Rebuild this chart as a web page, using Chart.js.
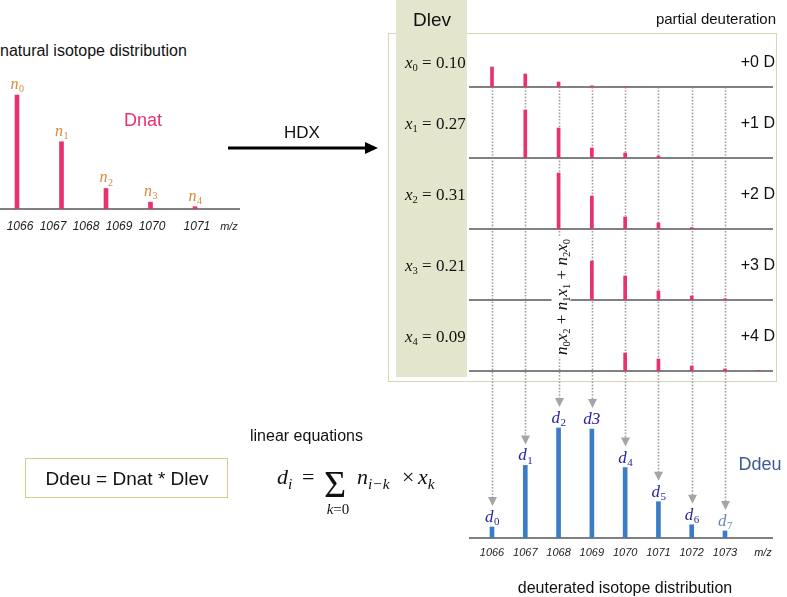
<!DOCTYPE html>
<html>
<head>
<meta charset="utf-8">
<script src="https://cdn.jsdelivr.net/npm/chart.js@4.4.1/dist/chart.umd.min.js"></script>
<style>
body { margin: 0; background: #fff; }
#wrap { position: relative; width: 787px; height: 597px; overflow: hidden;
        font-family: "Liberation Sans", Arial, sans-serif; color: #111; }
canvas { position: absolute; }
.t { position: absolute; white-space: nowrap; line-height: 1; z-index: 6; }
.c { transform: translate(-50%, -50%); }
.m { transform: translateY(-50%); }
.r { transform: translate(-100%, -50%); }
.serif { font-family: "Liberation Serif", "Times New Roman", serif; }
.s { font-size: 0.62em; position: relative; top: 0.28em; font-style: normal; }
.si { font-size: 0.7em; position: relative; top: 0.3em; font-style: italic; }
</style>
</head>
<body>
<div id="wrap">
  <!-- Dlev band and the partial deuteration frame -->
  <div style="position:absolute;left:388px;top:33px;width:389px;height:349px;border:1.5px solid #d9d5b0;box-sizing:border-box;z-index:1;"></div>
  <div style="position:absolute;left:396px;top:0;width:71px;height:377px;background:#e3e6cc;z-index:2;"></div>

  <div class="t m" style="left:0;top:51px;font-size:16px;">natural isotope distribution</div>
  <div class="t c" style="left:143px;top:120px;font-size:18px;color:#e8316f;">Dnat</div>
  <div class="t c" style="left:229px;top:226px;font-size:11px;font-style:italic;color:#222;">m/z</div>

  <div class="t c" style="left:302px;top:132px;font-size:17px;">HDX</div>
  <svg style="position:absolute;left:0;top:0;z-index:6;" width="787" height="597">
    <line x1="228" y1="148" x2="368" y2="148" stroke="#000" stroke-width="3"/>
    <polygon points="365,142 378,148 365,154" fill="#000"/>
  </svg>

  <div class="t c" style="left:432px;top:19px;font-size:19px;">Dlev</div>
  <div class="t r" style="left:776px;top:18px;font-size:15px;">partial deuteration</div>
  <div id="levText"></div>

  <div class="t c serif" style="left:561px;top:297px;transform:translate(-50%,-50%) rotate(-90deg);font-size:17px;background:#fff;padding:1px 2px;z-index:7;">
    <i>n</i><span class="s">0</span><i>x</i><span class="s">2</span> + <i>n</i><span class="s">1</span><i>x</i><span class="s">1</span> + <i>n</i><span class="s">2</span><i>x</i><span class="s">0</span>
  </div>

  <div class="t m" style="left:250px;top:436px;font-size:16px;">linear equations</div>
  <div style="position:absolute;left:25px;top:458px;width:203px;height:40px;border:1.5px solid #d6cb8f;box-sizing:border-box;z-index:6;"></div>
  <div class="t c" style="left:127px;top:478px;font-size:19px;">Ddeu = Dnat * Dlev</div>

  <div class="t serif" style="left:277px;top:466px;font-size:22px;"><i>d</i><span class="si">i</span></div>
  <div class="t serif" style="left:302px;top:466px;font-size:22px;">=</div>
  <div class="t serif" style="left:324px;top:465px;font-size:38px;">&Sigma;</div>
  <div class="t c serif" style="left:338px;top:509px;font-size:15px;"><i>k</i>=0</div>
  <div class="t serif" style="left:357px;top:466px;font-size:22px;"><i>n</i><span class="si">i&minus;k</span></div>
  <div class="t serif" style="left:402px;top:466px;font-size:22px;">&times;</div>
  <div class="t serif" style="left:418px;top:466px;font-size:22px;"><i>x</i><span class="si">k</span></div>

  <div class="t c" style="left:760px;top:464px;font-size:18px;color:#3d5c97;">Ddeu</div>
  <div class="t c" style="left:763px;top:552px;font-size:11px;font-style:italic;color:#222;">m/z</div>
  <div class="t c" style="left:625px;top:588px;font-size:16px;">deuterated isotope distribution</div>
</div>

<script>
// natural isotope distribution (Dnat)
const natMz = [1066, 1067, 1068, 1069, 1070];
const natInt = [100, 59, 18, 6, 2];
const natLabels = ['n_0', 'n_1', 'n_2', 'n_3', 'n_4'];
const natTicks = ['1066', '1067', '1068', '1069', '1070', '1071'];

// deuteration levels (Dlev)
const levNames = ['x_0', 'x_1', 'x_2', 'x_3', 'x_4'];
const levValues = [0.10, 0.27, 0.31, 0.21, 0.09];
const levShift = ['+0 D', '+1 D', '+2 D', '+3 D', '+4 D'];

// partial deuteration panels, one row per level
const panelMz = [
    [1066, 1067, 1068, 1069, 1070],
    [1067, 1068, 1069, 1070, 1071],
    [1068, 1069, 1070, 1071, 1072],
    [1069, 1070, 1071, 1072, 1073],
    [1070, 1071, 1072, 1073, 1074]
];
const panelInt = [
    [10, 6.5, 2.5, 0.6, 0.3],
    [24, 15, 5, 2.5, 1],
    [28, 16.5, 6, 3, 0.7],
    [19.5, 12, 4.5, 2, 0.6],
    [9, 6, 2.5, 1, 0.3]
];

// deuterated isotope distribution (Ddeu)
const deuMz = [1066, 1067, 1068, 1069, 1070, 1071, 1072, 1073];
const deuInt = [10, 66, 100, 99, 64, 33, 12, 6.4];
const deuLabels = ['d_0', 'd_1', 'd_2', 'd3', 'd_4', 'd_5', 'd_6', 'd_7'];

const pink = '#e8316f';
const blue = '#3b7cc6';
const axisGray = '#808080';

Chart.defaults.font.family = '"Liberation Sans", Arial, sans-serif';
Chart.defaults.plugins.legend.display = false;
Chart.defaults.plugins.tooltip.enabled = false;

const wrap = document.getElementById('wrap');

function place(left, top, w, h, z) {
    const c = document.createElement('canvas');
    c.width = w; c.height = h;
    c.style.left = left + 'px'; c.style.top = top + 'px';
    c.style.width = w + 'px'; c.style.height = h + 'px';
    c.style.zIndex = z;
    wrap.appendChild(c);
    return c;
}

// value range so that firstVal lands at pixel firstPx, with step px per unit
function range(firstVal, firstPx, step, left, width) {
    const min = firstVal - (firstPx - left) / step;
    return { min: min, max: min + width / step };
}

// fixed axis height and no side padding, so the plot area is the full canvas width
function fixAxis(h) {
    return s => { s.height = h; s.paddingLeft = 0; s.paddingRight = 0; };
}

function drawTag(ctx, x, y, text, size, color) {
    const parts = text.split('_');
    const main = parts[0], sub = parts[1] || '';
    const f1 = 'italic ' + size + 'px "Liberation Serif", serif';
    const f2 = Math.round(size * 0.65) + 'px "Liberation Serif", serif';
    ctx.save();
    ctx.fillStyle = color;
    ctx.textBaseline = 'alphabetic';
    ctx.font = f1;
    const w1 = ctx.measureText(main).width;
    ctx.font = f2;
    const w2 = sub ? ctx.measureText(sub).width : 0;
    const x0 = x - (w1 + w2) / 2;
    ctx.font = f1;
    ctx.fillText(main, x0, y);
    ctx.font = f2;
    ctx.fillText(sub, x0 + w1 + 0.5, y + size * 0.2);
    ctx.restore();
}

function tagPlugin(labels, size, colors, gap) {
    return {
        id: 'tags',
        afterDatasetsDraw(chart) {
            chart.getDatasetMeta(0).data.forEach((bar, i) => {
                drawTag(chart.ctx, bar.x, bar.y - gap, labels[i], size, colors[i] || colors[0]);
            });
        }
    };
}

function points(xs, ys) {
    return xs.map((x, i) => ({ x: x, y: ys[i] }));
}

// ---- left: natural distribution ----
const natX = range(1066, 17, 44.5, 0, 240);
const natLab = range(1066, 20, 33, 0, 240);
const natTickAt = [0, 1, 2, 3, 4, 5.36]; // the original spaces the last label wider
new Chart(place(0, 60, 240, 180, 4), {
    type: 'bar',
    data: { datasets: [{ data: points(natMz, natInt), backgroundColor: pink, barThickness: 4, xAxisID: 'x' }] },
    options: {
        responsive: false, animation: false, devicePixelRatio: 1,
        scales: {
            x: { type: 'linear', display: false, offset: false, min: natX.min, max: natX.max },
            x2: {
                type: 'linear', position: 'bottom', offset: false, min: natLab.min, max: natLab.max,
                grid: { display: false, drawTicks: false },
                border: { color: axisGray, width: 2 },
                afterBuildTicks: s => { s.ticks = natTickAt.map(v => ({ value: 1066 + v })); },
                afterFit: fixAxis(31),
                ticks: {
                    autoSkip: false, maxRotation: 0, padding: 10, color: '#222',
                    font: { size: 12, style: 'italic' },
                    callback: (v, i) => natTicks[i]
                }
            },
            y: { display: false, min: 0, max: 100 * 149 / 114 }
        }
    },
    plugins: [tagPlugin(natLabels, 16, ['#d9893a'], 6)]
});

// ---- bottom: deuterated distribution with the connector arrows ----
const mzX = range(1066, 492, 233 / 7, 469, 304);
const arrowPlugin = {
    id: 'arrows',
    beforeDatasetsDraw(chart) {
        const ctx = chart.ctx, top = chart.chartArea.top;
        ctx.save();
        chart.getDatasetMeta(0).data.forEach(bar => {
            const x = Math.round(bar.x) + 0.5;
            const tip = bar.y - 21;
            ctx.strokeStyle = '#a0a0a0';
            ctx.lineWidth = 1.6;
            ctx.setLineDash([1.6, 1.6]);
            ctx.beginPath();
            ctx.moveTo(x, top);
            ctx.lineTo(x, tip - 8);
            ctx.stroke();
            ctx.setLineDash([]);
            ctx.fillStyle = '#a5a5a5';
            ctx.beginPath();
            ctx.moveTo(x - 4.5, tip - 9);
            ctx.lineTo(x + 4.5, tip - 9);
            ctx.lineTo(x, tip);
            ctx.closePath();
            ctx.fill();
        });
        ctx.restore();
    }
};
const deuColors = deuLabels.map((l, i) => i === 7 ? '#6685b8' : '#2424a6');
new Chart(place(469, 87, 304, 473, 3), {
    type: 'bar',
    data: { datasets: [{ data: points(deuMz, deuInt), backgroundColor: blue, barThickness: 4 }] },
    options: {
        responsive: false, animation: false, devicePixelRatio: 1,
        scales: {
            x: {
                type: 'linear', offset: false, min: mzX.min, max: mzX.max,
                grid: { display: false, drawTicks: false },
                border: { color: axisGray, width: 2 },
                afterBuildTicks: s => { s.ticks = deuMz.map(v => ({ value: v })); },
                afterFit: fixAxis(22),
                ticks: {
                    autoSkip: false, maxRotation: 0, padding: 8, color: '#222',
                    font: { size: 11, style: 'italic' },
                    callback: v => String(v)
                }
            },
            y: { display: false, min: 0, max: 100 * 451 / 110 }
        }
    },
    plugins: [arrowPlugin, tagPlugin(deuLabels, 17, deuColors, 5)]
});

// ---- partial deuteration panels ----
const levText = document.getElementById('levText');
panelInt.forEach((vals, i) => {
    const base = 87 + 71 * i;
    new Chart(place(469, base - 68, 304, 70, 4), {
        type: 'bar',
        data: { datasets: [{ data: points(panelMz[i], vals), backgroundColor: pink, barThickness: 3 }] },
        options: {
            responsive: false, animation: false, devicePixelRatio: 1,
            scales: {
                x: {
                    type: 'linear', offset: false, min: mzX.min, max: mzX.max,
                    grid: { display: false, drawTicks: false },
                    border: { color: axisGray, width: 2 },
                    ticks: { display: false },
                    afterFit: fixAxis(2)
                },
                y: { display: false, min: 0, max: 34 }
            }
        }
    });
    const y = base - (i === 0 ? 25 : 35);
    const n = levNames[i].split('_');
    levText.insertAdjacentHTML('beforeend',
        '<div class="t m serif" style="left:405px;top:' + y + 'px;font-size:17px;">' +
        '<i>' + n[0] + '</i><span class="s">' + n[1] + '</span> = ' + levValues[i].toFixed(2) + '</div>' +
        '<div class="t r" style="left:775px;top:' + y + 'px;font-size:16px;">' + levShift[i] + '</div>');
});
</script>
</body>
</html>
